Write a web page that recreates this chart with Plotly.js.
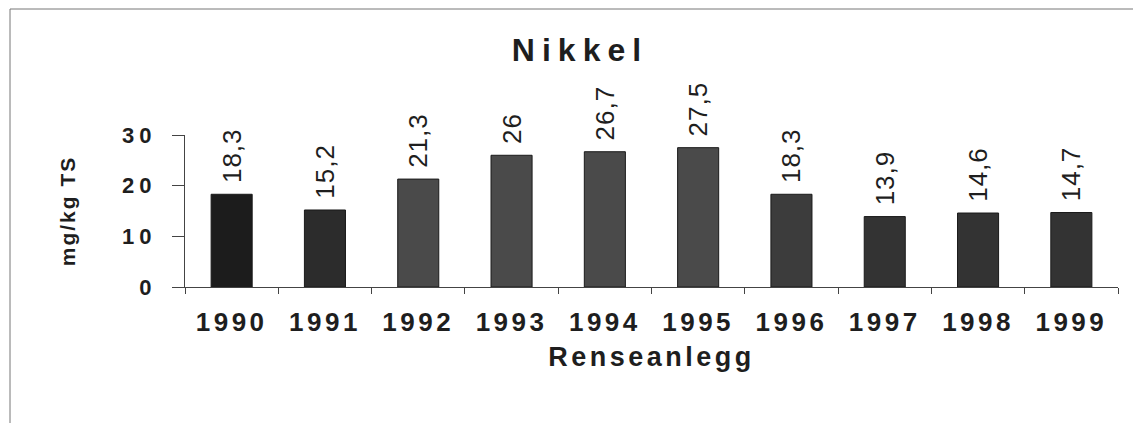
<!DOCTYPE html>
<html>
<head>
<meta charset="utf-8">
<script src="https://cdn.plot.ly/plotly-3.0.1.min.js"></script>
<style>
  html, body { margin: 0; padding: 0; background: #fff; }
  #chart { width: 1133px; height: 423px; }
  .gtitle { letter-spacing: 7px; }
  .xtitle { letter-spacing: 3.5px; }
  .ytitle { letter-spacing: 2px; }
  .xtick text { letter-spacing: 3.5px; }
  .ytick text { letter-spacing: 5px; }
  .bartext { letter-spacing: 1px; }
</style>
</head>
<body>
<div id="chart"></div>
<script>
const years = ["1990","1991","1992","1993","1994","1995","1996","1997","1998","1999"];
const nickel = [18.3, 15.2, 21.3, 26, 26.7, 27.5, 18.3, 13.9, 14.6, 14.7];
const barColors = ["#1c1c1c","#2c2c2c","#4a4a4a","#4a4a4a","#4a4a4a","#4a4a4a","#3c3c3c","#333333","#333333","#333333"];
const yTicks = [0, 10, 20, 30];

const labels = nickel.map(v => '\u00a0' + String(v).replace('.', ','));
const FONT = '"Liberation Sans", Arial, sans-serif';
const INK = '#1e1e1e';

const trace = {
  type: 'bar',
  x: years,
  y: nickel,
  text: labels,
  textposition: 'outside',
  textangle: -90,
  constraintext: 'none',
  cliponaxis: false,
  textfont: { family: FONT, size: 26, color: INK },
  marker: { color: barColors, line: { color: '#1a1a1a', width: 1 } },
  hoverinfo: 'x+y'
};

const layout = {
  width: 1133,
  height: 423,
  margin: { l: 185, r: 15, t: 135, b: 136 },
  paper_bgcolor: '#fff',
  plot_bgcolor: '#fff',
  showlegend: false,
  bargap: 0.56,
  font: { family: FONT, color: INK },
  title: {
    text: 'Nikkel',
    font: { family: FONT, size: 32, color: INK, weight: 'bold' },
    x: 580 / 1133, xanchor: 'center',
    y: 1 - 50 / 423, yanchor: 'middle', yref: 'container'
  },
  xaxis: {
    type: 'category',
    showgrid: false,
    zeroline: false,
    showline: true,
    linecolor: '#444',
    linewidth: 1,
    ticks: 'outside',
    tickson: 'boundaries',
    ticklen: 6,
    tickcolor: '#444',
    ticklabelstandoff: 12,
    tickfont: { family: FONT, size: 26, color: INK, weight: 'bold' },
    title: { text: 'Renseanlegg', font: { family: FONT, size: 27, color: INK, weight: 'bold' }, standoff: 10 }
  },
  yaxis: {
    range: [0, 30],
    tickvals: yTicks,
    ticktext: yTicks.map(String),
    showgrid: false,
    zeroline: false,
    showline: true,
    linecolor: '#444',
    linewidth: 1,
    ticks: 'outside',
    ticklen: 12,
    tickcolor: '#444',
    ticklabelstandoff: 11,
    tickfont: { family: FONT, size: 22, color: INK, weight: 'bold' },
    title: { text: 'mg/kg TS', font: { family: FONT, size: 21, color: INK, weight: 'bold' }, standoff: 40 }
  },
  shapes: [{
    type: 'rect', xref: 'paper', yref: 'paper',
    x0: (10 - 185) / 933, x1: (1140 - 185) / 933,
    y0: -(440 - 287) / 152, y1: (287 - 9) / 152,
    line: { color: '#777', width: 1 }, layer: 'below'
  }]
};

Plotly.newPlot('chart', [trace], layout, { displayModeBar: false, staticPlot: true });
</script>
</body>
</html>
